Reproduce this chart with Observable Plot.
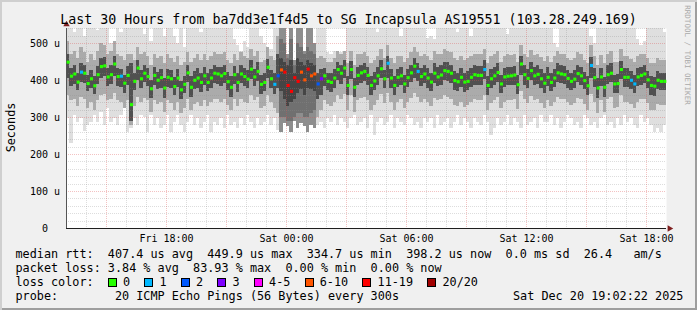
<!DOCTYPE html>
<html><head><meta charset="utf-8">
<script src="https://cdn.jsdelivr.net/npm/d3@7"></script>
<script src="https://cdn.jsdelivr.net/npm/@observablehq/plot@0.6"></script>
<style>
html,body{margin:0;padding:0;background:#f0f0f0;}
#wrap{position:relative;width:697px;height:310px;background:#f0f0f0;overflow:hidden;font-family:"DejaVu Sans Mono",monospace;}
#wrap svg{position:absolute;left:0;top:0;}
#shade{position:absolute;left:0;top:0;width:697px;height:310px;box-shadow:inset 2px 2px 0 #cfcfcf, inset -2px -2px 0 #9e9e9e;pointer-events:none;}
#legend{position:absolute;left:15.5px;top:246.9px;font-size:11.8px;line-height:14px;white-space:pre;color:#000;}
#legend .line{position:relative;height:14px;}
#legend .box{display:inline-block;width:7px;height:7px;border:1px solid #000;margin-right:6.2px;vertical-align:-1px;}
#legend .date{position:absolute;left:497.5px;top:0;}
</style></head>
<body><div id="wrap"></div>
<script>
// ---- data (values in microseconds, 10-minute steps from Fri 13:00 to Sat 19:00) ----
const med = [
450,412,418,396,423,420,392,405,386,416,438,440,410,416,445,411,412,393,414,335,398,434,405,420,411,378,414,401,408,380,409,405,384,407,375,390,
421,382,401,407,395,413,395,407,420,418,413,419,397,382,416,395,418,411,404,431,410,425,390,395,436,405,390,413,429,423,387,371,408,398,423,402,
431,413,418,391,405,413,398,395,407,430,420,434,387,430,382,414,421,425,414,387,399,413,432,405,447,407,387,409,413,391,408,421,439,425,411,418,
407,396,420,410,415,427,425,420,400,397,409,396,398,409,416,414,414,430,387,405,413,422,391,410,412,413,415,389,445,416,406,427,413,417,405,393,
409,395,407,421,418,416,406,398,404,419,413,400,386,441,408,380,410,382,416,420,391,392,430,409,409,401,391,410,414,418,402,387,385,401,398,398];
const loss = [
0,0,0,0,1,0,0,0,0,0,0,0,0,0,0,0,1,0,0,0,0,0,0,0,0,0,0,0,0,0,0,0,0,0,0,0,
0,0,0,0,0,0,0,0,0,0,0,0,0,0,0,0,0,0,0,0,0,0,0,0,0,0,1,2,8,16,16,16,16,16,8,8,
16,8,8,2,3,0,0,0,0,0,0,0,0,0,0,0,0,0,0,0,0,0,0,0,1,0,0,0,0,0,0,0,0,1,0,0,
0,0,0,0,0,0,0,0,0,0,0,0,0,0,0,0,0,1,0,0,0,0,0,0,0,0,0,0,0,0,0,0,0,0,0,0,
0,0,0,0,0,0,0,0,0,0,0,0,0,1,0,0,0,0,0,0,0,0,0,0,0,1,1,0,0,0,0,0,0,0,0,0];
const smokeMax = [
541,541,530,541,541,520,541,541,541,535,541,541,541,500,490,541,530,541,541,541,541,541,541,525,541,505,541,541,541,520,541,541,520,500,541,490,
541,541,541,541,530,541,541,541,541,541,541,541,541,541,510,495,480,505,490,541,541,541,520,500,470,485,541,541,541,541,470,541,455,541,541,480,
541,541,500,541,541,541,475,470,480,465,475,480,541,541,541,541,541,541,541,541,541,530,541,541,541,541,541,541,520,541,541,541,541,541,541,541,
515,520,510,541,541,541,541,541,541,530,541,541,541,520,541,541,541,541,541,541,541,541,541,541,525,541,541,541,541,541,541,541,541,541,541,541,
541,541,500,490,541,541,541,541,541,541,541,541,541,520,500,541,541,541,541,541,541,541,541,541,541,541,541,510,495,505,541,541,541,541,541,530];
const smokeUpper = [
505,470,480,460,490,475,450,470,455,480,500,495,470,480,505,470,465,455,470,470,455,490,470,475,465,440,470,460,465,445,470,460,450,465,440,450,
475,450,460,470,455,470,455,465,475,470,470,475,455,445,470,455,475,465,460,485,465,480,450,455,490,465,455,520,510,500,460,510,440,500,490,470,
490,480,470,460,465,460,450,450,460,480,470,480,445,480,440,470,470,475,465,445,455,465,485,460,495,460,445,465,465,450,460,475,490,475,465,470,
465,455,480,470,470,485,480,475,460,455,465,455,460,465,470,470,470,485,445,465,470,478,450,465,470,468,470,450,495,470,462,482,468,472,462,452,
465,450,465,478,472,470,460,455,460,475,470,455,445,495,465,440,468,445,472,478,450,450,485,465,465,458,450,466,470,472,460,445,445,460,455,455];
const coreUpper = [
470,432,440,420,445,440,415,428,410,438,460,462,432,440,465,432,430,415,438,445,420,455,428,442,432,400,436,422,430,405,430,428,408,430,398,412,
440,412,425,432,420,435,420,430,440,436,435,440,422,410,438,420,440,432,428,455,430,448,415,420,458,428,418,470,460,450,440,455,420,460,450,440,
455,445,440,420,430,432,420,418,430,450,440,455,412,452,405,435,440,445,435,410,422,435,455,428,465,430,410,430,435,415,430,442,460,445,432,440,
432,420,445,435,440,450,448,442,425,420,432,420,425,432,440,438,438,455,412,430,436,446,415,432,436,436,438,414,465,440,430,450,436,440,430,418,
435,418,430,445,440,438,428,420,428,442,436,422,410,462,432,405,434,408,440,445,415,416,452,432,432,424,415,432,436,440,426,410,408,424,420,420];
const coreLower = [
405,385,390,372,395,392,370,378,362,390,405,410,385,390,410,385,382,365,388,290,372,400,380,395,385,352,388,375,380,352,382,378,360,382,350,365,
395,355,375,380,368,388,370,380,392,390,385,392,372,355,390,368,392,385,378,402,385,398,362,370,405,378,362,380,370,350,330,340,350,365,375,360,
380,375,370,350,360,385,372,368,380,400,390,405,360,402,355,388,392,398,388,360,372,388,405,380,405,380,360,382,388,365,382,395,405,398,385,392,
380,370,392,385,388,400,398,392,372,370,382,368,372,382,388,386,386,402,360,378,386,395,365,382,386,386,388,362,415,388,378,400,386,390,378,365,
385,370,382,395,392,390,380,372,378,395,388,375,360,405,382,352,385,355,390,395,365,366,402,382,382,375,365,385,388,392,378,360,358,375,372,372];
const smokeLower = [
360,345,350,330,355,350,325,340,320,345,360,362,345,350,365,345,340,325,345,278,330,355,340,352,345,315,345,335,340,315,345,338,320,342,312,325,
350,320,335,340,330,345,330,340,350,348,342,350,332,318,348,330,350,342,338,360,345,355,325,330,360,340,325,310,300,300,290,290,300,310,310,300,
300,310,320,300,320,345,335,330,340,360,350,362,320,360,315,345,352,355,345,320,332,345,362,338,365,340,320,342,348,325,340,352,365,355,342,350,
340,330,352,345,348,360,355,350,332,330,342,328,332,342,348,345,345,360,320,338,345,355,325,342,345,345,348,322,370,348,338,358,345,350,338,325,
345,330,342,355,350,350,340,332,338,352,348,335,320,362,342,312,345,315,350,355,325,326,360,342,342,335,325,342,348,350,338,320,318,335,332,332];
const smokeMin = [
297,230,306,288,297,263,279,288,306,288,315,279,324,288,297,279,306,324,261,270,297,279,306,300,261,306,279,297,270,279,306,261,288,306,279,261,
288,306,279,297,270,288,306,261,288,279,297,270,306,279,288,270,297,279,306,288,270,297,279,288,306,279,297,265,261,285,275,261,290,270,285,275,
261,279,270,279,288,270,297,288,306,279,297,288,270,297,306,279,288,297,270,306,252,288,297,279,288,306,270,297,288,279,306,297,279,288,270,297,
288,297,270,306,279,288,297,270,288,306,279,297,288,270,297,288,279,306,288,252,270,297,279,288,306,279,297,288,270,306,279,288,297,270,306,288,
288,306,279,297,270,288,306,297,279,288,270,306,297,279,288,270,297,306,279,288,270,297,279,306,288,297,279,270,306,288,297,279,261,270,261,279];

const lossLabels = ["0","1","2","3","4-5","6-10","11-19","20/20"];
const lossUpperBound = [0,1,2,3,5,10,19,20];
const lossColors = ["#26ff00","#00b8ff","#0059ff","#7e00ff","#ff00ff","#ff5500","#ff0000","#a10000"];
const xTickTimes = ["2025-12-19T18:00Z","2025-12-20T00:00Z","2025-12-20T06:00Z","2025-12-20T12:00Z","2025-12-20T18:00Z"];
const yTicks = [0,100,200,300,400,500];
const yTop = 541;
const startTime = "2025-12-19T13:00Z";
const endTime = "2025-12-20T19:00Z";
const stepMinutes = 10;

const titleText = "Last 30 Hours from ba7dd3e1f4d5 to SG Incapsula AS19551 (103.28.249.169)";
const legendLines = [
  "median rtt:  407.4 us avg  449.9 us max  334.7 us min  398.2 us now  0.0 ms sd  26.4   am/s",
  "packet loss: 3.84 % avg  83.93 % max  0.00 % min  0.00 % now"
];
const probeText = "probe:        20 ICMP Echo Pings (56 Bytes) every 300s";
const dateText = "Sat Dec 20 19:02:22 2025";

// ---- build ----
const start = new Date(startTime), end = new Date(endTime);
const STEP = stepMinutes * 60000;
const bucket = l => lossUpperBound.findIndex(u => l <= u);
const rows = med.map((m, i) => ({
  t: new Date(+start + i * STEP), t2: new Date(+start + (i + 1) * STEP), tm: new Date(+start + (i + 0.5) * STEP),
  med: m, hi: smokeMax[i], h1: smokeUpper[i], h2: coreUpper[i], l2: coreLower[i], l1: smokeLower[i], lo: smokeMin[i], loss: loss[i]
}));
const normal = rows.filter(d => d.loss < 6), heavy = rows.filter(d => d.loss >= 6);
const hours = d3.utcHour.range(new Date(+start + 1), end);
const majorX = hours.filter(h => h.getUTCHours() % 3 === 0);
const minorX = hours.filter(h => h.getUTCHours() % 3 !== 0);
const majorY = yTicks.filter(v => v > 0);
const minorY = d3.range(20, yTop, 20).filter(v => v % 100 !== 0);
const crisp = {shapeRendering: "crispEdges"};
const band = (data, y1, y2, fill) => Plot.rect(data, {x1: "t", x2: "t2", y1, y2, fill, ...crisp});

const chart = Plot.plot({
  width: 697, height: 245,
  marginLeft: 66, marginRight: 31, marginTop: 28, marginBottom: 17,
  style: {background: "transparent", fontFamily: "'DejaVu Sans Mono', monospace", fontSize: "10px", color: "#000"},
  x: {type: "utc", domain: [start, end], ticks: xTickTimes.map(s => new Date(s)), tickFormat: d3.utcFormat("%a %H:%M"), tickSize: 0, tickPadding: 6.5, label: null},
  y: {domain: [0, yTop], ticks: yTicks, tickFormat: v => v === 0 ? "0\u00a0\u00a0" : `${v} u`, tickSize: 0, tickPadding: 6.5, label: null},
  marks: [
    Plot.frame({fill: "white", stroke: "none"}),
    band(normal, "lo", "hi", "#dfdfdf"),
    band(heavy, "lo", "hi", "#8e8e8e"),
    band(normal, "l1", "h1", "#ababab"),
    band(heavy, "l1", "h1", "#707070"),
    band(normal, "l2", "h2", "#505050"),
    band(heavy, "l2", "h2", "#454545"),
    Plot.ruleX(minorX, {stroke: "#8f8f8f", strokeOpacity: 0.3, strokeDasharray: "1,1", ...crisp}),
    Plot.ruleY(minorY, {stroke: "#8f8f8f", strokeOpacity: 0.3, strokeDasharray: "1,1", ...crisp}),
    Plot.ruleX(majorX, {stroke: "#de5050", strokeOpacity: 0.35, strokeDasharray: "1,1", ...crisp}),
    Plot.ruleY(majorY, {stroke: "#de5050", strokeOpacity: 0.35, strokeDasharray: "1,1", ...crisp}),
    Plot.ruleX([start], {stroke: "#555"}),
    Plot.ruleY([0], {stroke: "#1f1f1f"}),
    ...lossColors.map((c, b) => Plot.dot(rows.filter(d => bucket(d.loss) === b), {x: "tm", y: "med", symbol: "square", r: 1.75, fill: c, stroke: "none"})),
    Plot.dot([{x: start, y: yTop}], {x: "x", y: "y", symbol: "triangle", r: 2.4, fill: "#7f1f1f", stroke: "none", dy: -4}),
    Plot.dot([{x: end, y: 0}], {x: "x", y: "y", symbol: "triangle", rotate: 90, r: 2.4, fill: "#7f1f1f", stroke: "none", dx: 3})
  ]
});
const wrap = document.getElementById("wrap");
wrap.appendChild(chart);

// decorations: title, y label, rrdtool credit
const ns = "http://www.w3.org/2000/svg";
const deco = document.createElementNS(ns, "svg");
deco.setAttribute("width", 697); deco.setAttribute("height", 310);
deco.setAttribute("font-family", "'DejaVu Sans Mono', monospace");
function addText(txt, attrs) {
  const t = document.createElementNS(ns, "text");
  for (const k in attrs) t.setAttribute(k, attrs[k]);
  t.textContent = txt; deco.appendChild(t);
}
addText(titleText, {x: 348.5, y: 24, "text-anchor": "middle", "font-size": 13.3, fill: "#000"});
addText("Seconds", {transform: "translate(15,127.5) rotate(-90)", "text-anchor": "middle", "font-size": 11.8, fill: "#000"});
addText("RRDTOOL / TOBI OETIKER", {transform: "translate(685,55) rotate(90)", "text-anchor": "middle", "font-size": 7.5, fill: "#aaaaaa"});
wrap.appendChild(deco);

// legend
const legend = document.createElement("div");
legend.id = "legend";
legendLines.forEach(s => { const d = document.createElement("div"); d.className = "line"; d.textContent = s; legend.appendChild(d); });
const l3 = document.createElement("div"); l3.className = "line";
l3.appendChild(document.createTextNode("loss color:  "));
lossLabels.forEach((lab, i) => {
  const b = document.createElement("span"); b.className = "box"; b.style.background = lossColors[i];
  l3.appendChild(b);
  l3.appendChild(document.createTextNode(lab + (i < lossLabels.length - 1 ? "  " : "")));
});
legend.appendChild(l3);
const l4 = document.createElement("div"); l4.className = "line"; l4.textContent = probeText;
const ds = document.createElement("span"); ds.className = "date"; ds.textContent = dateText; l4.appendChild(ds);
legend.appendChild(l4);
wrap.appendChild(legend);

const shade = document.createElement("div"); shade.id = "shade"; wrap.appendChild(shade);
</script></body></html>
